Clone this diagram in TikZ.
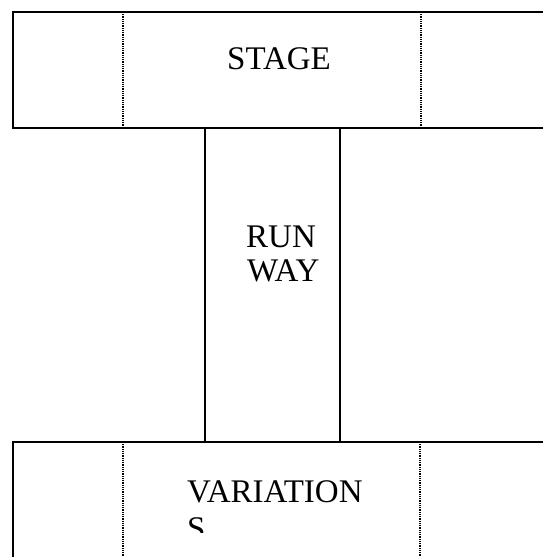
\documentclass[tikz,border=0pt]{standalone}
\usepackage{fontspec}
\setmainfont{Liberation Serif}
\begin{document}
\begin{tikzpicture}[x=1pt,y=-1pt,
  boxline/.style={line width=1.8pt,black},
  runline/.style={line width=1.4pt,black},
  dotline/.style={line width=1.1pt,black,dash pattern=on 1pt off 0.8pt},
  lbl/.style={anchor=base west,inner sep=0pt,font=\fontsize{33}{38}\selectfont}]
\useasboundingbox (0,0) rectangle (543,557);
% stage box
\coordinate (stTR) at (543,12);
\coordinate (stTL) at (13,12);
\coordinate (stBL) at (13,128);
\coordinate (stBR) at (543,128);
\draw[boxline] (stTR) -- (stTL) -- (stBL) -- (stBR);
\coordinate (d1t) at (123,12); \coordinate (d1b) at (123,128);
\coordinate (d2t) at (421,12); \coordinate (d2b) at (421,128);
\draw[dotline] (d1t) -- (d1b);
\draw[dotline] (d2t) -- (d2b);
\node[lbl] (stage) at (227,69) {STAGE};
% runway
\coordinate (rwTL) at (205,128); \coordinate (rwBL) at (205,442);
\coordinate (rwTR) at (340,128); \coordinate (rwBR) at (340,442);
\draw[runline] (rwTL) -- (rwBL);
\draw[runline] (rwTR) -- (rwBR);
\node[lbl] (run) at (246,247) {RUN};
\node[lbl] (way) at (247,281) {WAY};
% variations box
\coordinate (vaTR) at (543,442);
\coordinate (vaTL) at (13,442);
\coordinate (vaBL) at (13,557);
\draw[boxline] (vaTR) -- (vaTL) -- (vaBL);
\coordinate (d3t) at (123,442); \coordinate (d3b) at (123,557);
\coordinate (d4t) at (420,442); \coordinate (d4b) at (420,557);
\draw[dotline] (d3t) -- (d3b);
\draw[dotline] (d4t) -- (d4b);
\begin{scope}
\clip (14,443) rectangle (419,532);
\node[lbl] (var) at (187,502) {VARIATION};
\node[lbl] (vars) at (187,539) {S};
\end{scope}
\end{tikzpicture}
\end{document}
